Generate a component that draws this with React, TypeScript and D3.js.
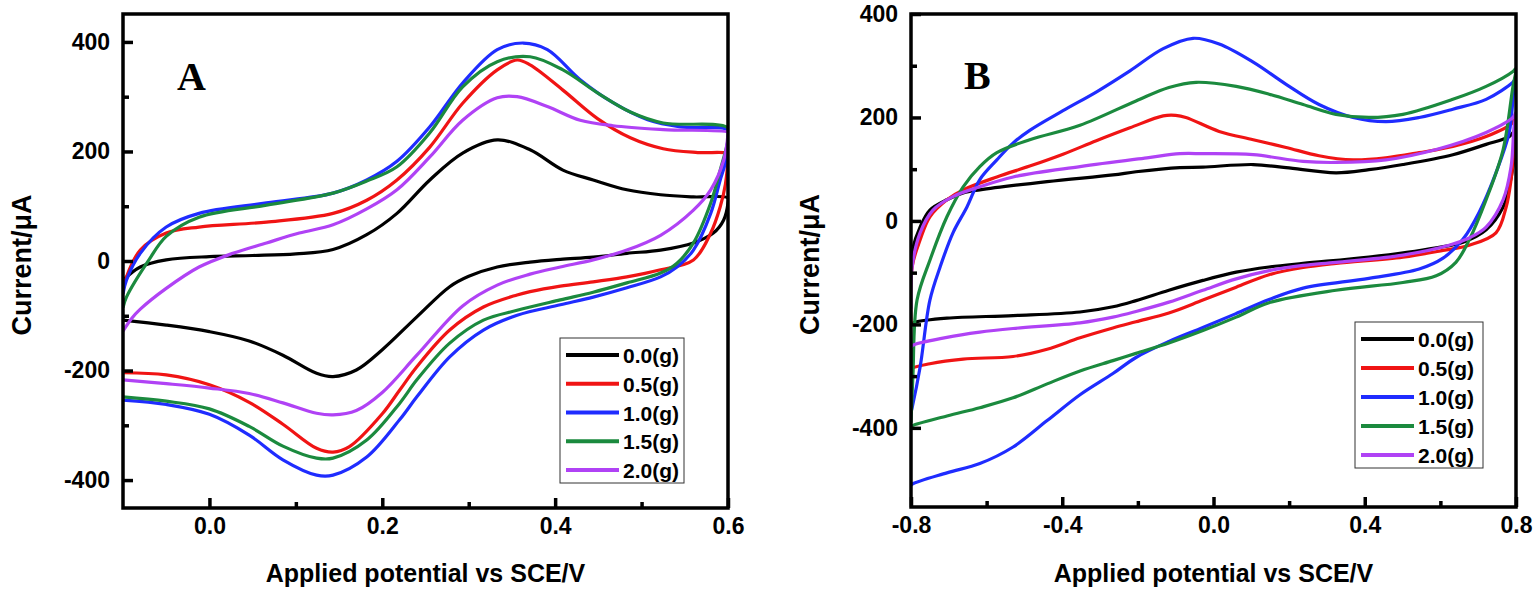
import React, { useEffect, useRef } from "react";
import * as d3 from "d3";

type Pt = [number, number];

// legend entries and colours
const seriesNames = ["0.0(g)", "0.5(g)", "1.0(g)", "1.5(g)", "2.0(g)"];
const seriesColors = ["#000000", "#f01414", "#1f2cff", "#1b8a3e", "#b042f5"];

// Panel A: potential (V) vs current (µA); forward sweep then reverse sweep
const aBlackFwd: Pt[] = [[-0.1, -35], [-0.08, -11], [-0.05, 2], [0.0, 8], [0.05, 10], [0.1, 13], [0.143, 21], [0.182, 48], [0.217, 87], [0.255, 148], [0.293, 197], [0.333, 221], [0.371, 203], [0.409, 166], [0.444, 148], [0.483, 130], [0.522, 121], [0.56, 117], [0.6, 115]];
const aBlackRev: Pt[] = [[0.6, 106], [0.595, 75], [0.583, 51], [0.56, 33], [0.522, 20], [0.483, 14], [0.444, 7], [0.406, 3], [0.371, -2], [0.333, -11], [0.3, -28], [0.278, -47], [0.24, -102], [0.2, -162], [0.17, -199], [0.143, -211], [0.124, -205], [0.085, -172], [0.046, -146], [0.0, -129], [-0.05, -117], [-0.1, -108]];
const aRedFwd: Pt[] = [[-0.1, -55], [-0.096, -29], [-0.08, 20], [-0.05, 51], [-0.012, 62], [0.066, 71], [0.143, 87], [0.182, 111], [0.217, 148], [0.255, 208], [0.293, 288], [0.333, 349], [0.356, 367], [0.371, 358], [0.409, 312], [0.449, 260], [0.487, 225], [0.525, 205], [0.565, 198], [0.6, 196]];
const aRedRev: Pt[] = [[0.6, 190], [0.597, 140], [0.591, 99], [0.58, 51], [0.56, 2], [0.522, -16], [0.483, -29], [0.444, -38], [0.406, -46], [0.371, -56], [0.356, -62], [0.317, -84], [0.278, -126], [0.24, -193], [0.22, -236], [0.2, -279], [0.162, -339], [0.143, -349], [0.124, -342], [0.085, -298], [0.046, -258], [0.0, -226], [-0.05, -208], [-0.1, -204]];
const aBlueFwd: Pt[] = [[-0.1, -60], [-0.096, -35], [-0.08, 14], [-0.05, 62], [-0.012, 87], [0.066, 106], [0.143, 124], [0.182, 148], [0.217, 182], [0.255, 245], [0.293, 325], [0.333, 386], [0.363, 398], [0.391, 386], [0.429, 331], [0.467, 289], [0.507, 258], [0.545, 245], [0.6, 239]];
const aBlueRev: Pt[] = [[0.6, 225], [0.597, 180], [0.591, 148], [0.58, 87], [0.56, 20], [0.541, -11], [0.522, -29], [0.483, -49], [0.444, -66], [0.406, -80], [0.356, -99], [0.317, -126], [0.278, -175], [0.24, -248], [0.22, -290], [0.182, -358], [0.143, -391], [0.124, -391], [0.085, -363], [0.046, -318], [0.0, -280], [-0.05, -262], [-0.1, -254]];
const aGreenFwd: Pt[] = [[-0.1, -85], [-0.096, -66], [-0.07, 2], [-0.05, 45], [-0.012, 80], [0.066, 102], [0.143, 124], [0.182, 146], [0.217, 172], [0.255, 234], [0.293, 318], [0.333, 364], [0.371, 373], [0.409, 349], [0.449, 307], [0.487, 272], [0.525, 252], [0.6, 243]];
const aGreenRev: Pt[] = [[0.6, 221], [0.591, 166], [0.58, 106], [0.56, 33], [0.541, -4], [0.522, -22], [0.483, -40], [0.444, -57], [0.406, -71], [0.356, -90], [0.317, -108], [0.278, -150], [0.24, -217], [0.22, -260], [0.182, -327], [0.143, -360], [0.124, -360], [0.085, -338], [0.046, -302], [0.0, -270], [-0.05, -256], [-0.1, -248]];
const aPurpleFwd: Pt[] = [[-0.1, -128], [-0.09, -105], [-0.08, -88], [-0.05, -50], [-0.012, -11], [0.027, 14], [0.066, 33], [0.104, 51], [0.143, 66], [0.182, 95], [0.217, 130], [0.255, 190], [0.293, 257], [0.333, 298], [0.356, 300], [0.391, 282], [0.429, 257], [0.467, 247], [0.525, 240], [0.6, 235]];
const aPurpleRev: Pt[] = [[0.6, 233], [0.595, 184], [0.58, 130], [0.56, 93], [0.522, 47], [0.483, 20], [0.444, 2], [0.406, -11], [0.371, -24], [0.333, -44], [0.293, -82], [0.24, -172], [0.2, -240], [0.17, -273], [0.143, -281], [0.124, -278], [0.085, -259], [0.046, -242], [0.0, -232], [-0.05, -224], [-0.1, -217]];

// Panel B
const bBlackFwd: Pt[] = [[-0.8, -95], [-0.798, -62], [-0.776, -12], [-0.75, 21], [-0.705, 41], [-0.662, 54], [-0.618, 60], [-0.44, 76], [-0.266, 89], [-0.205, 95], [-0.089, 103], [-0.028, 104], [0.105, 109], [0.192, 103], [0.324, 93], [0.411, 99], [0.501, 109], [0.633, 128], [0.721, 148], [0.782, 163], [0.8, 177]];
const bBlackRev: Pt[] = [[0.8, 170], [0.792, 105], [0.782, 66], [0.766, 27], [0.721, -17], [0.66, -41], [0.589, -52], [0.411, -70], [0.237, -82], [0.147, -89], [0.06, -99], [-0.028, -115], [-0.118, -134], [-0.205, -154], [-0.266, -166], [-0.353, -176], [-0.53, -183], [-0.705, -188], [-0.79, -196], [-0.8, -200]];
const bRedFwd: Pt[] = [[-0.8, -200], [-0.797, -89], [-0.776, -37], [-0.75, 8], [-0.705, 41], [-0.662, 60], [-0.573, 85], [-0.486, 106], [-0.398, 129], [-0.31, 155], [-0.221, 180], [-0.133, 203], [-0.1, 204], [-0.073, 200], [0.015, 173], [0.105, 157], [0.192, 142], [0.279, 126], [0.369, 118], [0.456, 122], [0.544, 132], [0.633, 144], [0.721, 163], [0.792, 190], [0.8, 205]];
const bRedRev: Pt[] = [[0.8, 200], [0.795, 140], [0.787, 80], [0.774, 27], [0.747, -23], [0.676, -47], [0.607, -57], [0.501, -70], [0.324, -82], [0.237, -90], [0.147, -104], [0.06, -128], [-0.028, -153], [-0.118, -178], [-0.205, -195], [-0.266, -207], [-0.353, -226], [-0.44, -248], [-0.53, -262], [-0.662, -267], [-0.75, -276], [-0.797, -285], [-0.8, -290]];
const bBlueFwd: Pt[] = [[-0.8, -370], [-0.797, -361], [-0.776, -283], [-0.75, -153], [-0.723, -89], [-0.689, -23], [-0.652, 27], [-0.618, 80], [-0.573, 118], [-0.531, 150], [-0.486, 175], [-0.398, 213], [-0.308, 250], [-0.221, 290], [-0.133, 333], [-0.054, 353], [0.015, 342], [0.105, 307], [0.192, 264], [0.279, 225], [0.369, 200], [0.456, 192], [0.544, 200], [0.633, 216], [0.721, 235], [0.792, 268], [0.8, 275]];
const bBlueRev: Pt[] = [[0.8, 268], [0.795, 255], [0.782, 171], [0.747, 93], [0.702, 16], [0.66, -35], [0.607, -72], [0.544, -93], [0.411, -111], [0.237, -130], [0.147, -152], [0.06, -179], [-0.028, -206], [-0.118, -233], [-0.205, -264], [-0.266, -295], [-0.353, -336], [-0.44, -386], [-0.53, -437], [-0.618, -469], [-0.705, -487], [-0.797, -509], [-0.8, -512]];
const bGreenFwd: Pt[] = [[-0.8, -390], [-0.795, -300], [-0.784, -153], [-0.75, -76], [-0.705, 8], [-0.662, 66], [-0.618, 105], [-0.573, 132], [-0.486, 157], [-0.353, 185], [-0.205, 232], [-0.118, 258], [-0.046, 268], [0.06, 260], [0.147, 245], [0.237, 225], [0.324, 206], [0.411, 200], [0.501, 206], [0.633, 235], [0.721, 260], [0.792, 289], [0.8, 295]];
const bGreenRev: Pt[] = [[0.8, 290], [0.792, 260], [0.766, 138], [0.721, 41], [0.676, -37], [0.641, -80], [0.589, -106], [0.501, -119], [0.324, -134], [0.147, -158], [0.06, -186], [-0.028, -212], [-0.118, -236], [-0.205, -256], [-0.266, -270], [-0.353, -290], [-0.44, -315], [-0.53, -342], [-0.618, -361], [-0.705, -377], [-0.797, -396], [-0.8, -398]];
const bPurpleFwd: Pt[] = [[-0.8, -170], [-0.797, -89], [-0.776, -23], [-0.742, 21], [-0.689, 47], [-0.618, 66], [-0.53, 85], [-0.353, 105], [-0.176, 122], [-0.089, 130], [-0.028, 130], [0.105, 128], [0.237, 115], [0.324, 113], [0.456, 118], [0.589, 138], [0.721, 171], [0.792, 200], [0.8, 210]];
const bPurpleRev: Pt[] = [[0.8, 205], [0.795, 183], [0.787, 105], [0.766, 41], [0.721, -12], [0.676, -33], [0.623, -47], [0.501, -66], [0.324, -80], [0.237, -86], [0.147, -96], [0.06, -112], [-0.028, -134], [-0.118, -157], [-0.205, -175], [-0.266, -186], [-0.353, -197], [-0.53, -208], [-0.618, -215], [-0.705, -225], [-0.797, -241], [-0.8, -245]];

// axis ticks
const aXMajor = [0.0, 0.2, 0.4, 0.6];
const aXMinor = [0.1, 0.3, 0.5];
const bXMajor = [-0.8, -0.4, 0.0, 0.4, 0.8];
const bXMinor = [-0.6, -0.2, 0.2, 0.6];
const yMajor = [-400, -200, 0, 200, 400];
const yMinor = [-300, -100, 100, 300];

interface Panel {
    id: string;
    letter: string;
    box: { left: number; right: number; top: number; bottom: number };
    xDomain: [number, number];
    yDomain: [number, number];
    xMajor: number[];
    xMinor: number[];
    loops: Pt[][];
    legend: { x: number; y: number; w: number; h: number };
    letterPos: [number, number];
}

const SANS = "'Liberation Sans', Arial, Helvetica, sans-serif";
const SERIF = "'Liberation Serif', 'Times New Roman', serif";

const panels: Panel[] = [
    {
        id: "A",
        letter: "A",
        box: { left: 123, right: 728, top: 14, bottom: 508 },
        xDomain: [-0.1, 0.6],
        yDomain: [-451, 451],
        xMajor: aXMajor,
        xMinor: aXMinor,
        loops: [
            [...aBlackFwd, ...aBlackRev],
            [...aRedFwd, ...aRedRev],
            [...aBlueFwd, ...aBlueRev],
            [...aGreenFwd, ...aGreenRev],
            [...aPurpleFwd, ...aPurpleRev],
        ],
        legend: { x: 560, y: 338, w: 124, h: 145 },
        letterPos: [177, 90],
    },
    {
        id: "B",
        letter: "B",
        box: { left: 911, right: 1516, top: 14, bottom: 507 },
        xDomain: [-0.8, 0.8],
        yDomain: [-553, 400],
        xMajor: bXMajor,
        xMinor: bXMinor,
        loops: [
            [...bBlackFwd, ...bBlackRev],
            [...bRedFwd, ...bRedRev],
            [...bBlueFwd, ...bBlueRev],
            [...bGreenFwd, ...bGreenRev],
            [...bPurpleFwd, ...bPurpleRev],
        ],
        legend: { x: 1355, y: 322, w: 128, h: 146 },
        letterPos: [964, 89],
    },
];

const App: React.FC = () => {
    const svgRef = useRef<SVGSVGElement>(null);

    useEffect(() => {
        if (!svgRef.current) return;
        const svg = d3.select(svgRef.current);
        svg.selectAll("*").remove();

        panels.forEach((p) => {
            const { left, right, top, bottom } = p.box;
            const x = d3.scaleLinear().domain(p.xDomain).range([left, right]);
            const y = d3.scaleLinear().domain(p.yDomain).range([bottom, top]);

            const clipId = `clip-${p.id}`;
            svg.append("defs")
                .append("clipPath")
                .attr("id", clipId)
                .append("rect")
                .attr("x", left)
                .attr("y", top)
                .attr("width", right - left)
                .attr("height", bottom - top);

            // CV loops
            const line = d3
                .line<Pt>()
                .x((d) => x(d[0]))
                .y((d) => y(d[1]))
                .curve(d3.curveCatmullRom.alpha(0.5));

            const curves = svg.append("g").attr("clip-path", `url(#${clipId})`);
            p.loops.forEach((pts, i) => {
                curves
                    .append("path")
                    .attr("d", line(pts))
                    .attr("fill", "none")
                    .attr("stroke", seriesColors[i])
                    .attr("stroke-width", 3.2)
                    .attr("stroke-linejoin", "round");
            });

            // ticks (inward)
            const xAxis = svg
                .append("g")
                .attr("transform", `translate(0,${bottom})`)
                .call(
                    d3.axisBottom(x)
                        .tickValues(p.xMajor)
                        .tickSize(-10)
                        .tickPadding(10)
                        .tickFormat((d) => (d as number).toFixed(1))
                );
            svg.append("g")
                .attr("transform", `translate(0,${bottom})`)
                .call(d3.axisBottom(x).tickValues(p.xMinor).tickSize(-6).tickFormat(() => ""));

            const yAxis = svg
                .append("g")
                .attr("transform", `translate(${left},0)`)
                .call(
                    d3.axisLeft(y)
                        .tickValues(yMajor)
                        .tickSize(-10)
                        .tickPadding(13)
                        .tickFormat((d) => String(d))
                );
            svg.append("g")
                .attr("transform", `translate(${left},0)`)
                .call(d3.axisLeft(y).tickValues(yMinor).tickSize(-6).tickFormat(() => ""));

            svg.selectAll(".domain").remove();
            svg.selectAll(".tick line").attr("stroke", "#000").attr("stroke-width", 3.5);
            [xAxis, yAxis].forEach((ax) =>
                ax
                    .attr("font-size", 23)
                    .attr("font-family", SANS)
                    .attr("font-weight", "bold")
                    .selectAll("text")
                    .attr("fill", "#000")
            );

            // frame
            svg.append("rect")
                .attr("x", left)
                .attr("y", top)
                .attr("width", right - left)
                .attr("height", bottom - top)
                .attr("fill", "none")
                .attr("stroke", "#000")
                .attr("stroke-width", 3.5);

            // axis titles
            svg.append("text")
                .attr("x", (left + right) / 2)
                .attr("y", 582)
                .attr("text-anchor", "middle")
                .attr("font-family", SANS)
                .attr("font-weight", "bold")
                .attr("font-size", 25)
                .text("Applied potential vs SCE/V");

            svg.append("text")
                .attr("transform", `translate(${left - 92},${(top + bottom) / 2 + 4}) rotate(-90)`)
                .attr("text-anchor", "middle")
                .attr("font-family", SANS)
                .attr("font-weight", "bold")
                .attr("font-size", 27)
                .text("Current/\u03bcA");

            // panel letter
            svg.append("text")
                .attr("x", p.letterPos[0])
                .attr("y", p.letterPos[1])
                .attr("font-family", SERIF)
                .attr("font-weight", "bold")
                .attr("font-size", 40)
                .text(p.letter);

            // legend
            const lg = svg.append("g").attr("transform", `translate(${p.legend.x},${p.legend.y})`);
            lg.append("rect")
                .attr("width", p.legend.w)
                .attr("height", p.legend.h)
                .attr("fill", "#fff")
                .attr("stroke", "#333")
                .attr("stroke-width", 1);
            const rowH = (p.legend.h - 30) / 4;
            seriesNames.forEach((name, i) => {
                const ry = 17 + i * rowH;
                lg.append("line")
                    .attr("x1", 6)
                    .attr("x2", 59)
                    .attr("y1", ry)
                    .attr("y2", ry)
                    .attr("stroke", seriesColors[i])
                    .attr("stroke-width", 4);
                lg.append("text")
                    .attr("x", 63)
                    .attr("y", ry + 8)
                    .attr("font-family", SANS)
                    .attr("font-weight", "bold")
                    .attr("font-size", 21)
                    .text(name);
            });
        });
    }, []);

    return (
        <svg
            ref={svgRef}
            width={1536}
            height={591}
            style={{ position: "absolute", left: 0, top: 0, background: "#fff" }}
        ></svg>
    );
};

export default App;
